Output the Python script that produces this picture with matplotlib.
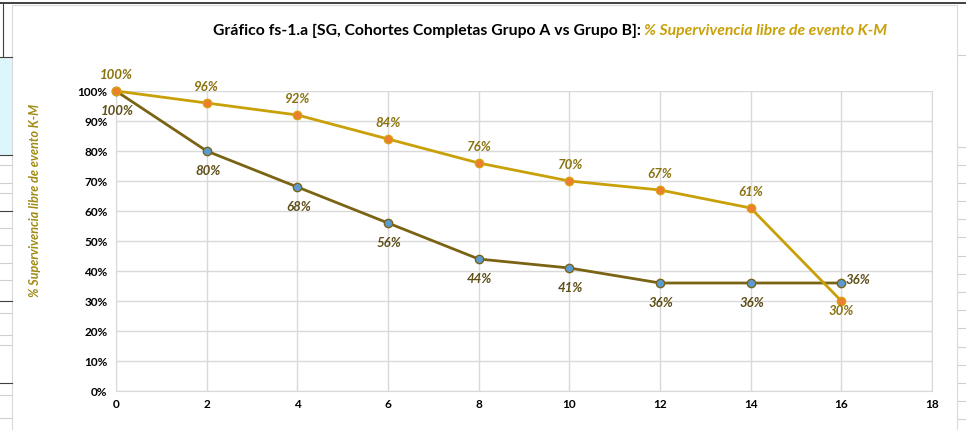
import matplotlib
matplotlib.use("Agg")
import matplotlib.pyplot as plt
from matplotlib.lines import Line2D
from matplotlib.patches import Rectangle

# Datos: supervivencia libre de evento (K-M), en %
meses = [0, 2, 4, 6, 8, 10, 12, 14, 16]
grupo_b = [100, 96, 92, 84, 76, 70, 67, 61, 30]
grupo_a = [100, 80, 68, 56, 44, 41, 36, 36, 36]
x_ticks = [0, 2, 4, 6, 8, 10, 12, 14, 16, 18]
y_ticks = [0, 10, 20, 30, 40, 50, 60, 70, 80, 90, 100]

titulo_1 = "Gráfico fs-1.a [SG, Cohortes Completas Grupo A vs Grupo B]: "
titulo_2 = "% Supervivencia libre de evento K-M"
etiqueta_y = "% Supervivencia libre de evento K-M"

FONT = ["Lato", "DejaVu Sans"]
plt.rcParams["font.family"] = FONT

W, H = 966, 430
fig = plt.figure(figsize=(W / 100, H / 100), dpi=100)
fig.patch.set_facecolor("white")


def px(x, y):
    # pixeles (desde arriba-izquierda) a coordenadas de figura
    return x / W, 1 - y / H


# hoja de cálculo detrás del gráfico
fig.add_artist(Rectangle(px(0, 155), 12 / W, 98 / H, transform=fig.transFigure,
                         facecolor="#DDF6FB", edgecolor="none", zorder=0))
for yy in [57, 155, 165, 183, 193, 211, 228, 245, 263, 280, 301, 313, 335, 345, 383, 395, 418]:
    c = "#404040" if yy in (57, 155, 211, 301, 383) else "#D0D0D0"
    fig.add_artist(Line2D([0, 12 / W], [1 - yy / H] * 2, color=c, lw=0.8, transform=fig.transFigure))
for yy in [55, 147, 165, 183, 201, 219, 237, 256, 274, 292, 310, 328, 347, 365, 383, 401, 419]:
    fig.add_artist(Line2D([958 / W, 1], [1 - yy / H] * 2, color="#D0D0D0", lw=0.8, transform=fig.transFigure))
fig.add_artist(Line2D([3 / W, 3 / W], [1 - 4 / H, 1 - 57 / H], color="#404040", lw=0.8, transform=fig.transFigure))
fig.add_artist(Line2D([0, 1], [1 - 3 / H] * 2, color="#202020", lw=1.2, transform=fig.transFigure))
# área del gráfico
fig.add_artist(Rectangle(px(12, 431), 945 / W, 426 / H, transform=fig.transFigure,
                         facecolor="white", edgecolor="#D9D9D9", lw=0.8, zorder=0))

ax = fig.add_axes([116 / W, 1 - 391 / H, 816 / W, 300 / H])
ax.set_facecolor("none")
ax.set_xlim(0, 18)
ax.set_ylim(0, 100)
ax.set_xticks(x_ticks)
ax.set_yticks(y_ticks)
ax.set_yticklabels([f"{v}%" for v in y_ticks])
ax.grid(True, color="#D9D9D9", lw=1)
ax.set_axisbelow(True)
ax.spines["top"].set_visible(False)
for s in ["left", "right", "bottom"]:
    ax.spines[s].set_color("#D9D9D9")
ax.tick_params(length=0, labelsize=8.5, colors="black", pad=6)
for t in ax.get_xticklabels() + ax.get_yticklabels():
    t.set_fontweight("bold")

# grupo A primero para que el marcador naranja quede encima en 100%
ax.plot(meses, grupo_a, color="#7A6414", lw=2, marker="o", ms=6,
        mfc="#5B9BD5", mec="#7A6414", mew=1, zorder=3, clip_on=False)
ax.plot(meses, grupo_b, color="#C9A008", lw=2, marker="o", ms=6,
        mfc="#ED7D31", mec="#D9A20A", mew=1, zorder=3, clip_on=False)

col_b = "#8A7210"
col_a = "#5E4E18"
lbl = dict(ha="center", va="center", fontsize=9.5, style="italic", fontweight="bold")
for i, (m, v) in enumerate(zip(meses, grupo_b)):
    dy = -10 if i == len(meses) - 1 else 16
    ax.annotate(f"{v}%", (m, v), xytext=(0, dy), textcoords="offset pixels",
                color=col_b, **lbl)
for i, (m, v) in enumerate(zip(meses, grupo_a)):
    off = (17, 3) if i == len(meses) - 1 else (1, -20)
    ax.annotate(f"{v}%", (m, v), xytext=off, textcoords="offset pixels",
                color=col_a, **lbl)

fig.text(35 / W, 1 - 200 / H, etiqueta_y, rotation=90, ha="center", va="center",
         fontsize=9, style="italic", fontweight="bold", color="#A08A10")

# título en dos partes (negro + dorado)
r = fig.canvas.get_renderer()
t1 = fig.text(0, 1 - 31 / H, titulo_1, fontsize=11.3, fontweight="bold",
              color="black", va="center", ha="left")
t2 = fig.text(0, 1 - 31 / H, titulo_2, fontsize=11.3, fontweight="bold",
              style="italic", color="#C9A008", va="center", ha="left")
w1 = t1.get_window_extent(r).width
w2 = t2.get_window_extent(r).width
x0 = 550 - (w1 + w2) / 2
t1.set_x(x0 / W)
t2.set_x((x0 + w1) / W)

fig.savefig("out.png", dpi=100)
